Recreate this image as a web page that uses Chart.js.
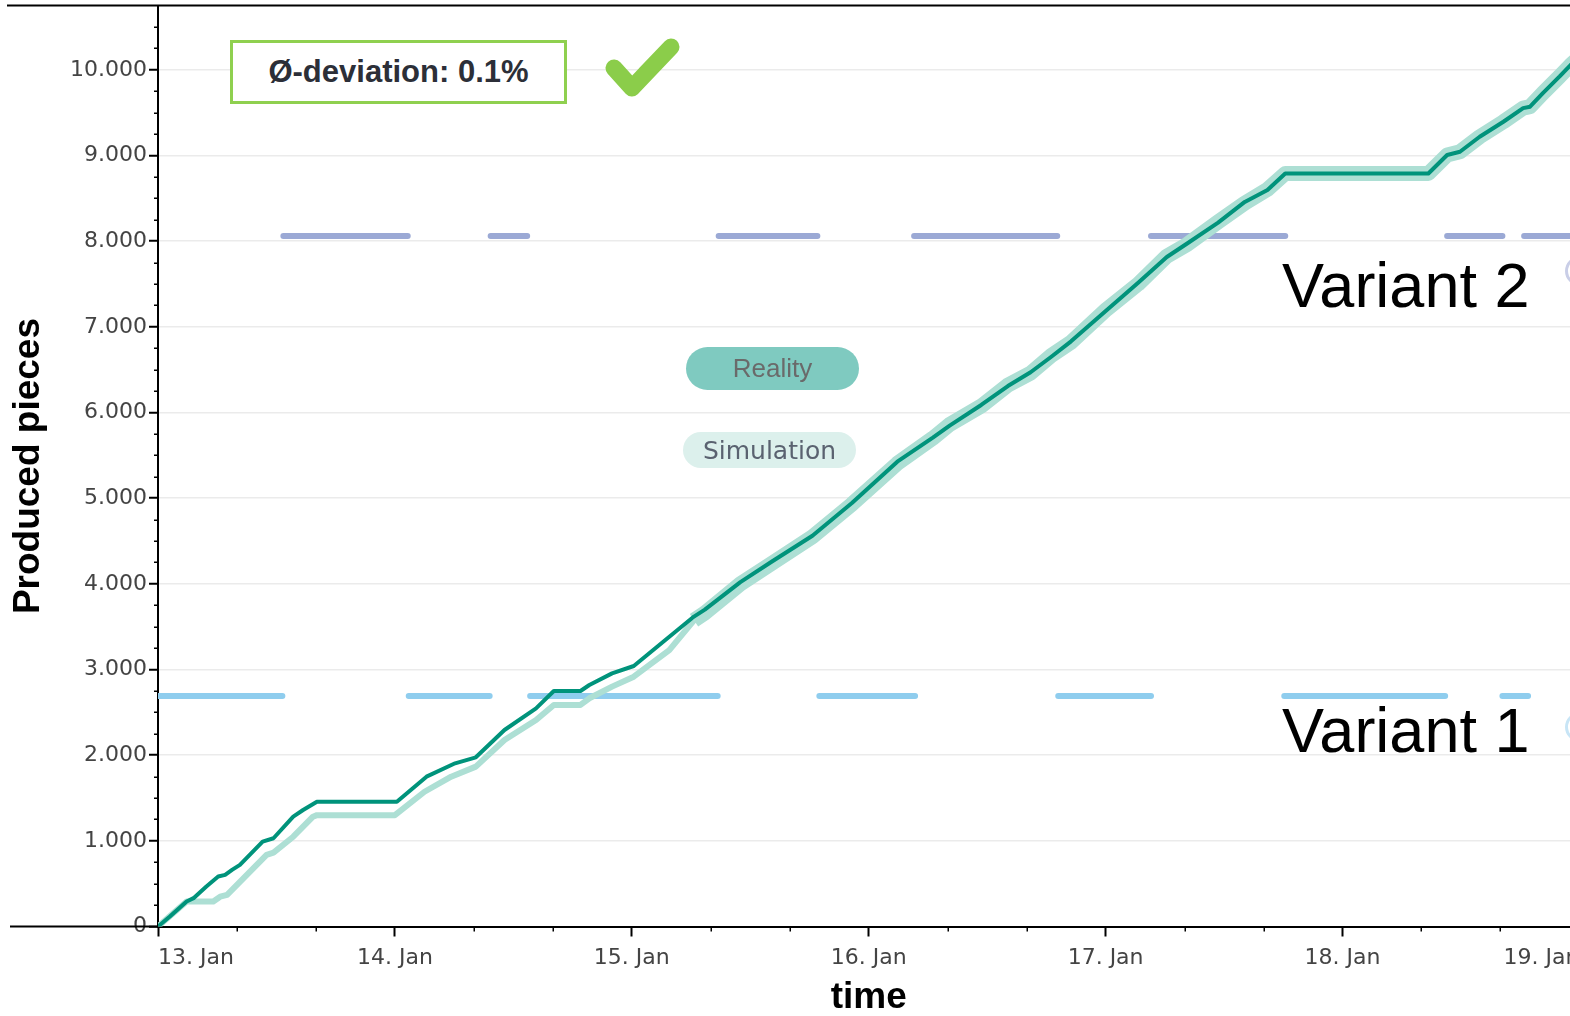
<!DOCTYPE html>
<html>
<head>
<meta charset="utf-8">
<title>Produced pieces – Reality vs. Simulation</title>
<script src="https://cdn.jsdelivr.net/npm/chart.js@4.4.1/dist/chart.umd.min.js"></script>
<style>
  html, body { margin: 0; padding: 0; background: #fff; overflow: hidden; width: 1570px; height: 1016px; }
  #wrap { position: absolute; left: 0; top: 0; width: 1582px; height: 1016px; }
  canvas { display: block; }
  .deviation {
    position: absolute; left: 230px; top: 40px; width: 331px; height: 58px;
    border: 3px solid #8fd04f; background: #fff;
    display: flex; align-items: center; justify-content: center;
    font: bold 31px "Liberation Sans", Arial, sans-serif; color: #2c2f38;
  }
  .pill {
    position: absolute; display: flex; align-items: center; justify-content: center;
    white-space: nowrap;
  }
  .pill.reality {
    left: 686px; top: 347px; width: 173px; height: 43px; border-radius: 22px;
    background: #7fcac0; color: #6a6a6a; font: 26px "Liberation Sans", Arial, sans-serif;
  }
  .pill.simulation {
    left: 683px; top: 432px; width: 173px; height: 36px; border-radius: 18px;
    background: #dcf0ec; color: #5a6270; font: 25px "DejaVu Sans", sans-serif;
  }
  .variant {
    position: absolute; left: 1282px; font: 63px "Liberation Sans", Arial, sans-serif;
    line-height: 63px; color: #000; white-space: nowrap;
  }
  .marker {
    position: absolute; left: 1565px; width: 30px; height: 30px; border-radius: 50%;
    box-sizing: border-box; border: 3px solid;
  }
  svg.overlay { position: absolute; left: 0; top: 0; pointer-events: none; }
</style>
</head>
<body>
<div id="wrap"><canvas id="chart" width="1582" height="1016"></canvas></div>

<div class="deviation">Ø-deviation: 0.1%</div>
<svg class="overlay" width="1570" height="1016">
  <polyline points="614,68 632,88 671,47" fill="none" stroke="#8bcd4a"
            stroke-width="17" stroke-linecap="round" stroke-linejoin="round"/>
</svg>
<div id="legendReality" class="pill reality"></div>
<div id="legendSimulation" class="pill simulation"></div>
<div class="variant" style="top:254px">Variant 2</div>
<div class="variant" style="top:699px">Variant 1</div>
<div class="marker" style="top:256px;border-color:#c9cee7"></div>
<div class="marker" style="top:712px;border-color:#c8e5f6"></div>

<script>
// ---- x axis: hours since 13 Jan 00:00, one labelled tick per day ----
const dayLabels = ['13. Jan', '14. Jan', '15. Jan', '16. Jan', '17. Jan', '18. Jan', '19. Jan'];
const hoursPerDay = 24;
const minorStepHours = 8;

// ---- y axis ----
const yTickValues = [0, 1000, 2000, 3000, 4000, 5000, 6000, 7000, 8000, 9000, 10000];
const minorStepPieces = 250;
const yAxisMax = 10750;

const seriesNames = ['Reality', 'Simulation'];

// cumulative produced pieces, measured line
const realityHours = [
  0, 1.2, 2.9, 3.6, 4.9, 6.1, 6.8, 7.5, 8.3, 10.6, 11.7, 13.7, 14.7, 16.1,
  24.2, 27.2, 30.1, 32.2, 35.1, 38.3, 40.1, 42.8, 43.7, 46.0, 48.2, 51.4,
  54.3, 55.4, 59.0, 62.2, 66.3, 70.3, 74.9, 78.5, 80.2, 83.4, 86.1, 88.4,
  90.5, 92.5, 96.1, 99.3, 102.2, 104.3, 107.4, 110.1, 112.4, 114.2,
  128.7, 130.6, 131.9, 133.9, 136.3, 138.3, 139.0, 140.3, 142.0, 143.1, 144
];
const realityPieces = [
  0, 117, 292, 331, 467, 583, 603, 661, 720, 990, 1030, 1282, 1360, 1457,
  1457, 1749, 1905, 1975, 2294, 2547, 2749, 2749, 2819, 2955, 3041, 3344,
  3618, 3699, 4020, 4261, 4562, 4944, 5426, 5707, 5847, 6088, 6309, 6470,
  6651, 6831, 7193, 7514, 7815, 7976, 8217, 8458, 8598, 8790,
  8790, 9006, 9044, 9219, 9394, 9553, 9570, 9729, 9923, 10056, 10150
];

// cumulative produced pieces, simulation run
const simulationHours = [
  0, 2.9, 5.6, 6.3, 7.0, 11.0, 11.7, 13.7, 15.7, 16.1,
  24.0, 27.0, 29.7, 32.2, 35.1, 38.3, 40.1, 42.8, 43.7, 46.0, 48.2, 51.8,
  54.3, 55.4, 59.0, 62.2, 66.3, 70.3, 74.9, 78.5, 80.2, 83.4, 86.1, 88.4,
  90.5, 92.5, 96.1, 99.3, 102.2, 104.3, 107.4, 110.1, 112.4, 114.2,
  128.7, 130.6, 131.9, 133.9, 136.3, 138.3, 139.0, 140.3, 142.0, 143.1, 144
];
const simulationPieces = [
  0, 292, 292, 348, 370, 837, 862, 1048, 1282, 1300,
  1300, 1573, 1749, 1866, 2177, 2410, 2586, 2586, 2664, 2800, 2916, 3227,
  3575, 3660, 4000, 4240, 4550, 4930, 5405, 5700, 5860, 6075, 6320, 6460,
  6665, 6820, 7205, 7500, 7825, 7965, 8225, 8445, 8605, 8790,
  8790, 9006, 9044, 9219, 9394, 9553, 9570, 9729, 9923, 10056, 10150
];

// planned output levels of the two variants and the periods in which they apply
const variant1Level = 2690;
const variant1Spans = [[0, 12.6], [25.4, 33.6], [37.7, 56.7], [67.0, 76.7], [91.2, 100.6], [114.1, 130.4], [136.2, 138.8]];
const variant2Level = 8060;
const variant2Spans = [[12.7, 25.3], [33.7, 37.4], [56.8, 66.8], [76.6, 91.1], [100.6, 114.2], [130.6, 136.2], [138.4, 144]];

// ---- helpers ----
const zip = (xs, ys) => xs.map((x, i) => ({ x, y: ys[i] }));
const spansToPoints = (spans, level) => spans.flatMap(([s, e]) => [
  { x: s, y: level }, { x: e, y: level }, { x: e, y: null }
]);
const groupThousands = v => String(v).replace(/\B(?=(\d{3})+(?!\d))/g, '.');

document.getElementById('legendReality').textContent = seriesNames[0];
document.getElementById('legendSimulation').textContent = seriesNames[1];

// minor tick marks and the frame lines that run past the plot area
const axisExtras = {
  id: 'axisExtras',
  afterDraw(chart) {
    const { ctx, chartArea: a, scales: { x, y } } = chart;
    ctx.save();
    ctx.strokeStyle = '#000';
    ctx.lineWidth = 2;
    ctx.beginPath();
    ctx.moveTo(7, a.top); ctx.lineTo(chart.width, a.top);
    ctx.moveTo(10, a.bottom); ctx.lineTo(a.left, a.bottom);
    ctx.stroke();

    ctx.lineWidth = 1.5;
    ctx.beginPath();
    for (let v = minorStepPieces; v < yAxisMax; v += minorStepPieces) {
      if (v % 1000 === 0) continue;
      const py = Math.round(y.getPixelForValue(v)) + 0.25;
      ctx.moveTo(a.left - 4, py); ctx.lineTo(a.left, py);
    }
    for (let h = minorStepHours; h < dayLabels.length * hoursPerDay; h += minorStepHours) {
      if (h % hoursPerDay === 0) continue;
      const px = Math.round(x.getPixelForValue(h)) + 0.25;
      ctx.moveTo(px, a.bottom); ctx.lineTo(px, a.bottom + 5);
    }
    ctx.stroke();
    ctx.restore();
  }
};

const tickFont = { family: '"DejaVu Sans", sans-serif', size: 22 };
const titleFont = { family: '"Liberation Sans", Arial, sans-serif', size: 37, weight: 'bold', lineHeight: 1 };

new Chart(document.getElementById('chart'), {
  type: 'line',
  data: {
    datasets: [
      {
        label: seriesNames[0],
        data: zip(realityHours, realityPieces),
        borderColor: '#00937b',
        borderWidth: 4,
        clip: 0
      },
      {
        label: seriesNames[1],
        data: zip(simulationHours, simulationPieces),
        borderColor: '#addfd4',
        borderWidth: 6,
        // where the run sits on top of the measured line it shows as a wide band
        segment: { borderWidth: ctx => (ctx.p0.parsed.x >= 54 ? 15 : 6) },
        clip: 0
      },
      {
        label: 'Variant 2',
        data: spansToPoints(variant2Spans, variant2Level),
        borderColor: '#9ba9d5',
        borderWidth: 6,
        borderCapStyle: 'round',
        clip: 0
      },
      {
        label: 'Variant 1',
        data: spansToPoints(variant1Spans, variant1Level),
        borderColor: '#8fcdee',
        borderWidth: 6,
        borderCapStyle: 'round',
        clip: 0
      }
    ]
  },
  options: {
    responsive: false,
    animation: false,
    devicePixelRatio: 1,
    spanGaps: false,
    elements: {
      point: { radius: 0, hoverRadius: 0 },
      line: { tension: 0, borderJoinStyle: 'round', fill: false }
    },
    layout: { padding: { left: 0, top: 5.6, right: 2.6, bottom: 0 } },
    plugins: { legend: { display: false }, tooltip: { enabled: false } },
    scales: {
      x: {
        type: 'linear',
        min: 0,
        max: (dayLabels.length - 1) * hoursPerDay,
        border: { display: true, color: '#000', width: 2 },
        grid: { drawOnChartArea: false, drawTicks: true, tickLength: 10, tickColor: '#000', tickWidth: 2 },
        ticks: {
          stepSize: hoursPerDay,
          autoSkip: false,
          maxRotation: 0,
          align: 'inner',
          padding: 9,
          color: '#444',
          font: tickFont,
          callback: v => dayLabels[Math.round(v / hoursPerDay)]
        },
        title: { display: true, text: 'time', color: '#000', font: titleFont, padding: { top: 0, bottom: 0 } },
        afterFit(scale) { scale.height = 89.5; scale.paddingLeft = 0; scale.paddingRight = 0; }
      },
      y: {
        type: 'linear',
        min: 0,
        max: yAxisMax,
        border: { display: true, color: '#000', width: 2 },
        grid: { color: '#ebebeb', lineWidth: 1.5, drawTicks: true, tickLength: 9, tickColor: '#000', tickWidth: 2 },
        afterBuildTicks(scale) { scale.ticks = yTickValues.map(value => ({ value })); },
        ticks: {
          padding: 2,
          color: '#444',
          font: tickFont,
          callback: v => groupThousands(v)
        },
        title: { display: true, text: 'Produced pieces', color: '#000', font: titleFont, padding: { top: 10.5, bottom: 0 } },
        afterFit(scale) { scale.width = 158; scale.paddingTop = 0; scale.paddingBottom = 0; }
      }
    }
  },
  plugins: [axisExtras]
});
</script>
</body>
</html>
